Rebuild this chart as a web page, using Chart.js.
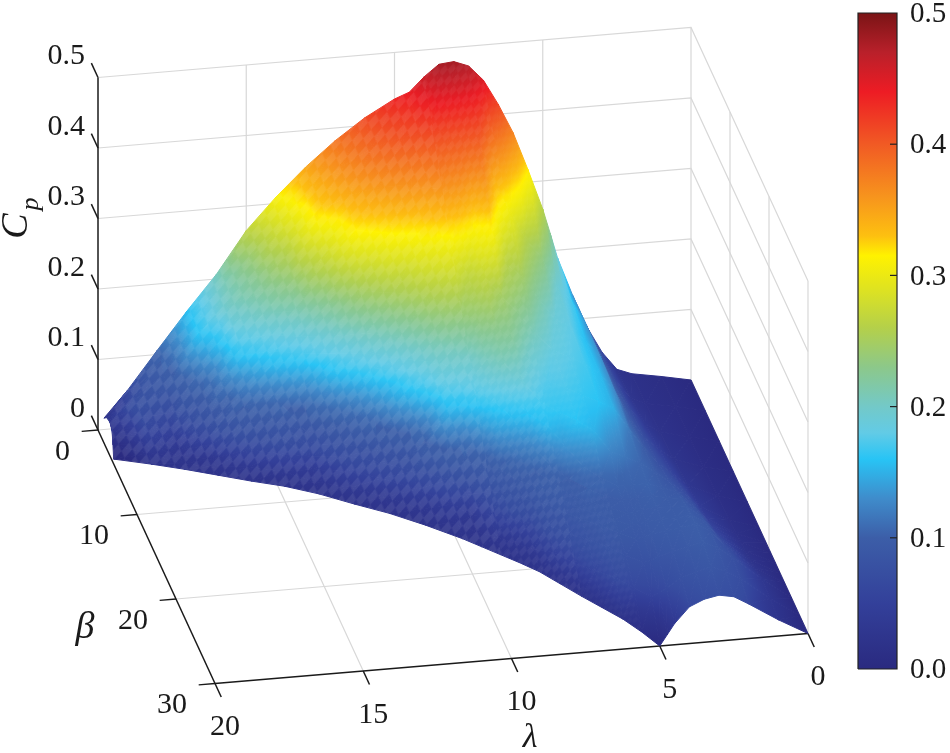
<!DOCTYPE html>
<html>
<head>
<meta charset="utf-8">
<title>Cp surface</title>
<script src="https://cdn.jsdelivr.net/npm/chart.js@4"></script>
<style>
  html, body { margin: 0; padding: 0; background: #fff; }
  canvas { display: block; }
</style>
</head>
<body>
<canvas id="chart" width="950" height="753"></canvas>
<script>
// tick labels
const cpTicks = [0, 0.1, 0.2, 0.3, 0.4, 0.5];
const betaTicks = [0, 10, 20, 30];
const lambdaTicks = [20, 15, 10, 5, 0];
const barTicks = [0, 0.1, 0.2, 0.3, 0.4, 0.5];

// surface
const lambdas = [0, 1, 2, 2.5, 3, 3.5, 4, 4.5, 4.75, 5, 5.5, 6, 6.5, 7, 7.5, 8, 8.5, 9, 9.5, 10, 11, 12, 13, 14, 15, 16, 17, 18, 19, 19.8];
// largest beta that the surface reaches at each lambda
const betaEdge = [30, 30, 30, 30, 30, 30, 30, 30, 30, 30, 29.2, 28.2, 26.7, 25.2, 23.6, 22, 20.8, 19.7, 18.6, 17.5, 15.6, 13.9, 12.5, 11, 9.8, 8.9, 7.9, 6.9, 6, 2.5];
// rows, as a share of betaEdge
const rowShare = [0, .12, .24, .36, .48, .58, .64, .68, .72, .76, .8, .86, .93, 1];
// one line per lambda, one value per row
const cpGrid = [
  [0, 0, 0, 0, 0, 0, 0, 0, 0, 0, 0, 0, 0, 0],
  [.0085, .009, .009, .01, .012, .014, .016, .018, .02, .022, .025, .03, .028, .023],
  [.016, .017, .02, .024, .03, .037, .042, .046, .05, .055, .06, .065, .06, .049],
  [.024, .027, .033, .04, .048, .058, .065, .07, .075, .08, .082, .08, .072, .061],
  [.05, .052, .055, .059, .066, .075, .082, .087, .09, .092, .094, .09, .08, .065],
  [.087, .088, .088, .088, .09, .09, .09, .09, .09, .09, .09, .085, .075, .061],
  [.135, .135, .133, .128, .118, .105, .098, .095, .093, .09, .088, .08, .068, .052],
  [.189, .17, .158, .155, .148, .115, .097, .093, .09, .088, .085, .075, .055, .03],
  [.225, .183, .168, .162, .154, .12, .097, .092, .089, .086, .082, .07, .05, .015],
  [.26, .195, .18, .17, .16, .125, .098, .092, .088, .085, .08, .068, .045, 0],
  [.318, .235, .19, .178, .165, .15, .105, .093, .09, .087, .083, .072, .05, .012],
  [.372, .26, .215, .185, .172, .16, .115, .097, .09, .088, .085, .075, .055, .02],
  [.414, .30, .245, .205, .175, .163, .135, .10, .088, .085, .082, .072, .05, .02],
  [.45, .335, .262, .228, .193, .17, .155, .11, .095, .088, .08, .067, .045, .02],
  [.472, .395, .32, .247, .22, .19, .16, .125, .10, .09, .08, .065, .045, .02],
  [.48, .405, .325, .27, .23, .205, .18, .155, .115, .085, .07, .05, .033, .02],
  [.478, .41, .35, .27, .235, .205, .188, .17, .14, .092, .07, .05, .03, .02],
  [.462, .415, .36, .295, .24, .20, .187, .177, .14, .085, .06, .045, .03, .02],
  [.442, .41, .36, .30, .25, .205, .192, .182, .158, .09, .05, .032, .025, .02],
  [.434, .405, .362, .305, .255, .21, .195, .188, .181, .15, .062, .04, .028, .02],
  [.411, .39, .358, .315, .253, .208, .188, .18, .16, .07, .06, .044, .03, .02],
  [.382, .365, .343, .315, .248, .205, .187, .172, .125, .07, .06, .047, .032, .02],
  [.348, .335, .32, .273, .225, .195, .18, .165, .09, .07, .058, .045, .033, .02],
  [.309, .285, .258, .235, .21, .187, .172, .13, .07, .058, .047, .036, .028, .02],
  [.265, .24, .228, .218, .205, .185, .17, .155, .115, .085, .068, .05, .033, .02],
  [.207, .205, .203, .201, .19, .175, .158, .13, .115, .10, .08, .05, .033, .02],
  [.158, .16, .16, .16, .125, .09, .08, .07, .06, .052, .045, .03, .025, .02],
  [.106, .10, .09, .08, .055, .048, .044, .04, .036, .033, .03, .026, .022, .02],
  [.053, .056, .06, .066, .065, .058, .055, .052, .05, .047, .044, .038, .03, .02],
  [.016, .02, .024, .026, .028, .028, .028, .027, .026, .025, .023, .018, .006, -.012]
];

// colour bar
const mapValues = [0, .05, .1, .13, .16, .18, .2, .23, .26, .29, .315, .33, .36, .4, .44, .47, .5];
const mapColors = ["#2a2a80", "#33409a", "#3c5ea8", "#3f8ccb", "#28c4f5", "#62cbe6", "#73c9c8", "#8cc88a",
  "#b4d04a", "#dfe320", "#fff200", "#fdc010", "#f7941d", "#f15a24", "#ed1c24", "#b9202a", "#7a1416"];

// view: where the axes land on the page
function project(lambda, beta, cp) {
  return {
    x: 691 - 29.65 * lambda + 3.9 * beta,
    y: 380 + 2.5 * lambda + 8.45 * beta - 705 * cp
  };
}

function hexToRgb(h) {
  return [parseInt(h.slice(1, 3), 16), parseInt(h.slice(3, 5), 16), parseInt(h.slice(5, 7), 16)];
}

function colorFor(v) {
  let i = 0;
  while (i < mapValues.length - 2 && v > mapValues[i + 1]) i++;
  const f = Math.max(0, Math.min(1, (v - mapValues[i]) / (mapValues[i + 1] - mapValues[i])));
  const a = hexToRgb(mapColors[i]);
  const b = hexToRgb(mapColors[i + 1]);
  return "rgb(" + a.map((c, k) => Math.round(c + (b[k] - c) * f)).join(",") + ")";
}

// the low end of the surface reads a bit lighter than the bar
function surfaceColor(v) {
  if (v > 0.03 && v < 0.1) {
    const lifted = v < 0.055 ? 0.03 + (v - 0.03) * 1.52 : 0.068 + (v - 0.055) * 0.82;
    return colorFor(lifted);
  }
  return colorFor(v);
}

const canvas = document.getElementById("chart");
const ctx = canvas.getContext("2d");

// triangle fill, follows the colour map across the triangle
function triangleFill(p) {
  const lo = Math.min(p[0].c, p[1].c, p[2].c);
  const hi = Math.max(p[0].c, p[1].c, p[2].c);
  const dx1 = p[1].x - p[0].x, dy1 = p[1].y - p[0].y, dc1 = p[1].c - p[0].c;
  const dx2 = p[2].x - p[0].x, dy2 = p[2].y - p[0].y, dc2 = p[2].c - p[0].c;
  const det = dx1 * dy2 - dx2 * dy1;
  if (hi - lo < 0.0005 || Math.abs(det) < 0.01) return surfaceColor((lo + hi) / 2);
  const a = (dc1 * dy2 - dc2 * dy1) / det;
  const b = (dx1 * dc2 - dx2 * dc1) / det;
  const g2 = a * a + b * b;
  const at = c => [p[0].x + a * (c - p[0].c) / g2, p[0].y + b * (c - p[0].c) / g2];
  const s = at(lo), e = at(hi);
  const grad = ctx.createLinearGradient(s[0], s[1], e[0], e[1]);
  const steps = Math.max(1, Math.ceil((hi - lo) / 0.01));
  for (let i = 0; i <= steps; i++) {
    grad.addColorStop(i / steps, surfaceColor(lo + (hi - lo) * i / steps));
  }
  return grad;
}

// diamond shading of the mesh
function meshPattern(w, h, alpha) {
  const tile = document.createElement("canvas");
  tile.width = w;
  tile.height = h;
  const t = tile.getContext("2d");
  t.fillStyle = "rgba(255,255,255," + alpha + ")";
  t.beginPath();
  t.moveTo(w / 2, 0);
  t.lineTo(w, h / 2);
  t.lineTo(w / 2, h);
  t.lineTo(0, h / 2);
  t.closePath();
  t.fill();
  const pat = ctx.createPattern(tile, "repeat");
  pat.setTransform(new DOMMatrix().skewY(-10).skewX(-18));
  return pat;
}

const datasets = [];

function addLine(points, color, width) {
  datasets.push({
    data: points,
    showLine: true,
    borderColor: color,
    borderWidth: width,
    pointRadius: 0,
    fill: false,
    tension: 0,
    clip: false
  });
}

function addShape(points, fillStyle, lineWidth) {
  datasets.push({
    data: points.concat([points[0]]).map(p => ({ x: p.x, y: p.y })),
    showLine: true,
    backgroundColor: fillStyle,
    borderColor: fillStyle,
    borderWidth: lineWidth,
    pointRadius: 0,
    fill: "shape",
    tension: 0,
    clip: false
  });
}

// grid on the two walls and the floor
const gridColor = "#d8d8d8";
cpTicks.forEach(z => {
  addLine([project(20, 0, z), project(0, 0, z), project(0, 30, z)], gridColor, 1.2);
});
[15, 10, 5, 0].forEach(l => {
  addLine([project(l, 30, 0), project(l, 0, 0), project(l, 0, 0.5)], gridColor, 1.2);
});
[10, 20].forEach(b => {
  addLine([project(20, b, 0), project(0, b, 0), project(0, b, 0.5)], gridColor, 1.2);
});
addLine([project(0, 30, 0), project(0, 30, 0.5)], gridColor, 1.2);

// axes and ticks
const axisColor = "#1a1a1a";
addLine([project(20, 0, 0), project(20, 0, 0.5)], axisColor, 1.5);
addLine([project(20, 0, 0), project(20, 30, 0)], axisColor, 1.5);
addLine([project(20, 30, 0), project(0, 30, 0)], axisColor, 1.5);
cpTicks.forEach(z => addLine([project(20, 0, z), project(20, -1.7, z)], axisColor, 1.5));
betaTicks.forEach(b => addLine([project(20, b, 0), project(20.55, b, 0)], axisColor, 1.5));
lambdaTicks.forEach(l => addLine([project(l, 30, 0), project(l, 31.6, 0)], axisColor, 1.5));

const gridPoint = (ci, cj) => {
  const pt = project(lambdas[ci], betaEdge[ci] * rowShare[cj], cpGrid[ci][cj]);
  return { x: pt.x, y: pt.y, c: cpGrid[ci][cj] };
};

// surface, far side first
for (let j = 0; j < rowShare.length - 1; j++) {
  for (let i = 0; i < lambdas.length - 1; i++) {
    const a = gridPoint(i, j), b = gridPoint(i + 1, j), c = gridPoint(i + 1, j + 1), d = gridPoint(i, j + 1);
    addShape([a, b, c], triangleFill([a, b, c]), 1);
    addShape([a, c, d], triangleFill([a, c, d]), 1);
  }
}

// mesh shading over the part of the surface where it shows
function outline(from, to) {
  const pts = [];
  for (let i = from; i <= to; i++) pts.push(gridPoint(i, 0));
  for (let i = to; i >= from; i--) pts.push(gridPoint(i, rowShare.length - 1));
  return pts;
}
const meshA = lambdas.indexOf(9), meshB = lambdas.indexOf(7), meshC = lambdas.indexOf(5.5);
addShape(outline(meshA, lambdas.length - 1), meshPattern(11, 15, 0.08), 0);
addShape(outline(meshB, meshA), meshPattern(8, 11, 0.05), 0);
addShape(outline(meshC, meshB), meshPattern(6, 8, 0.02), 0);

// colour bar, drawn on the page scales
const barLeft = 858, barRight = 897;
const barY = v => 669 - 1312 * v;
const barGrad = ctx.createLinearGradient(0, barY(0), 0, barY(0.5));
mapValues.forEach((v, i) => barGrad.addColorStop(v / 0.5, mapColors[i]));
addShape([
  { x: barLeft, y: barY(0) }, { x: barRight, y: barY(0) },
  { x: barRight, y: barY(0.5) }, { x: barLeft, y: barY(0.5) }
], barGrad, 0);
addLine([
  { x: barLeft, y: barY(0) }, { x: barRight, y: barY(0) }, { x: barRight, y: barY(0.5) },
  { x: barLeft, y: barY(0.5) }, { x: barLeft, y: barY(0) }
], "#222", 1.2);
barTicks.slice(1, -1).forEach(v => {
  addLine([{ x: barRight - 7, y: barY(v) }, { x: barRight, y: barY(v) }], "#222", 1.2);
});

// tick labels and axis names
const textPlugin = {
  id: "axisText",
  afterDatasetsDraw(chart) {
    const c = chart.ctx;
    const sx = chart.scales.x, sy = chart.scales.y;
    const put = (txt, x, y, align, font) => {
      c.font = font;
      c.textAlign = align;
      c.textBaseline = "middle";
      c.fillStyle = "#1a1a1a";
      c.fillText(txt, x, y);
    };
    const num = '30px "Liberation Serif"';
    const at = pt => ({ x: sx.getPixelForValue(pt.x), y: sy.getPixelForValue(pt.y) });
    cpTicks.forEach(z => {
      const p = at(project(20, 0, z));
      put(String(z), p.x - 13, p.y - 21, "right", num);
    });
    betaTicks.forEach(b => {
      const p = at(project(20, b, 0));
      put(String(b), p.x - 28, p.y + 22, "right", num);
    });
    lambdaTicks.forEach(l => {
      const p = at(project(l, 30, 0));
      put(String(l), p.x + 10, p.y + 44, "center", num);
    });
    barTicks.forEach(v => {
      put(v.toFixed(1), 910, barY(v) + 1.5, "left", '29px "Liberation Serif"');
    });
    put("\u03b2", 85, 628, "center", 'italic 38px "Liberation Serif"');
    put("\u03bb", 530, 738, "center", 'italic 34px "Liberation Serif"');
    c.save();
    c.translate(17, 226);
    c.rotate(-Math.PI / 2);
    put("C", 0, 0, "center", 'italic 38px "Liberation Serif"');
    put("p", 22, 14, "center", 'italic 26px "Liberation Serif"');
    c.restore();
  }
};

// the first dataset is painted last, so flip the painting order
new Chart(canvas, {
  type: "scatter",
  data: { datasets: datasets.reverse() },
  options: {
    responsive: false,
    animation: false,
    events: [],
    layout: { padding: 0 },
    plugins: { legend: { display: false }, tooltip: { enabled: false } },
    scales: {
      x: { type: "linear", min: 0, max: 950, display: false },
      y: { type: "linear", min: 0, max: 753, reverse: true, display: false }
    }
  },
  plugins: [textPlugin]
});
</script>
</body>
</html>
